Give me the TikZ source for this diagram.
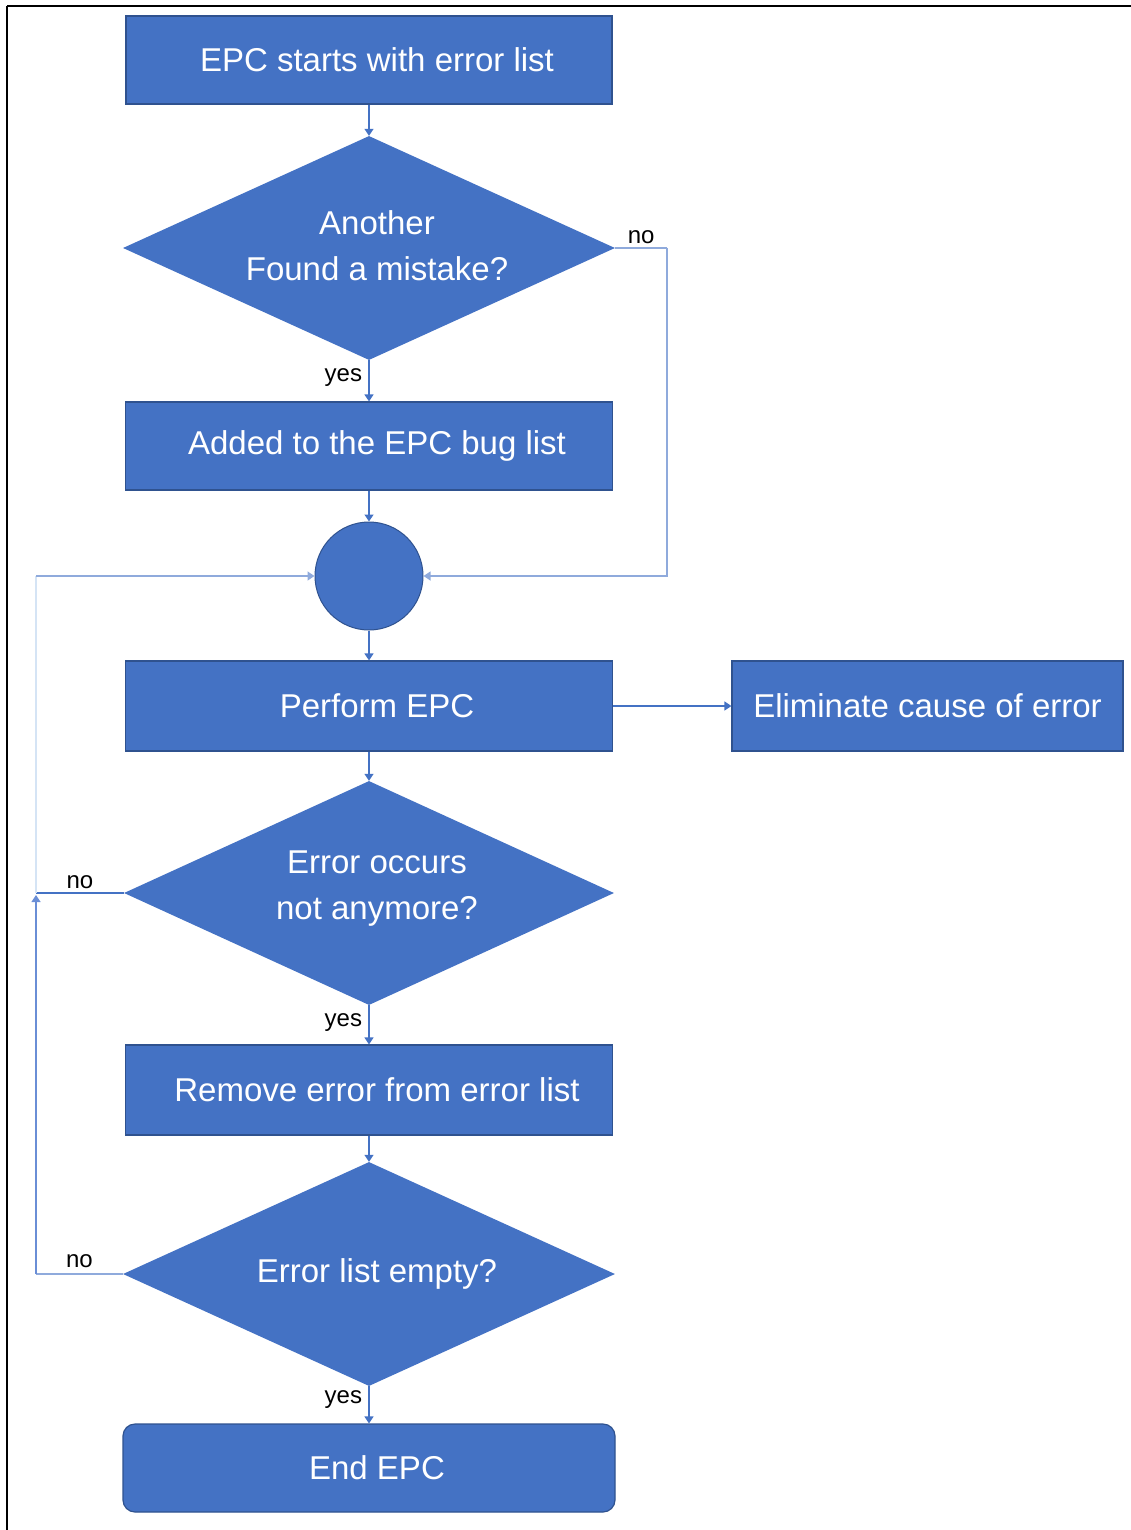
\documentclass[tikz,border=0pt]{standalone}
\usepackage{fontspec}
\setmainfont{Liberation Sans}
\usetikzlibrary{shapes.geometric,arrows.meta}
\definecolor{boxfill}{HTML}{4472C4}
\definecolor{boxline}{HTML}{2F528F}
\definecolor{linemain}{HTML}{4472C4}
\definecolor{linelight}{HTML}{8FAADC}
\definecolor{linefaint}{HTML}{D5E4F5}
\definecolor{linemid}{HTML}{6A8ED6}
\tikzset{
  box/.style={rectangle,fill=boxfill,draw=boxline,line width=1.2pt,inner sep=0pt},
  dia/.style={diamond,fill=boxfill,draw=none,inner sep=0pt},
  txt/.style={text=white,font=\fontsize{33}{46}\selectfont,align=center},
  lbl/.style={text=black,font=\fontsize{24}{26}\selectfont},
  conn/.style={draw=linemain,line width=1.3pt,-{Triangle[width=9pt,length=7pt]}},
  plain/.style={line width=1.3pt},
}
\begin{document}
\begin{tikzpicture}[x=1pt,y=-1pt]
\useasboundingbox (0,0) rectangle (1131,1530);
\draw[black,line width=2.5pt] (7,6) -- (1131,6);
\draw[black,line width=2.5pt] (7,6) -- (7,1530);

\node[box,minimum width=486pt,minimum height=88pt,label={[txt,xshift=8pt]center:EPC starts with error list}] (b1) at (369,60) {};
\node[dia,minimum width=492pt,minimum height=224pt,label={[txt,xshift=8pt,yshift=2pt]center:Another\\Found a mistake?}] (d1) at (369,248) {};
\node[box,minimum width=487pt,minimum height=88pt,label={[txt,xshift=8pt]center:Added to the EPC bug list}] (b2) at (369,446) {};
\node[circle,fill=boxfill,draw=boxline,line width=1pt,minimum size=108pt,inner sep=0pt] (c) at (369,576) {};
\node[box,minimum width=487pt,minimum height=90pt,label={[txt,xshift=8pt]center:Perform EPC}] (b3) at (369,706) {};
\node[box,minimum width=391pt,minimum height=90pt,label={[txt]center:Eliminate cause of error}] (b4) at (927.5,706) {};
\node[dia,minimum width=490pt,minimum height=224pt,label={[txt,xshift=8pt,yshift=4pt]center:Error occurs\\not anymore?}] (d2) at (369,893) {};
\node[box,minimum width=487pt,minimum height=90pt,label={[txt,xshift=8pt]center:Remove error from error list}] (b5) at (369,1090) {};
\node[dia,minimum width=492pt,minimum height=224pt,label={[txt,xshift=8pt]center:Error list empty?}] (d3) at (369,1274) {};
\node[box,rounded corners=12pt,minimum width=492pt,minimum height=88pt,label={[txt,xshift=8pt]center:End EPC}] (b6) at (369,1468) {};

\coordinate (r1) at (667,248);
\coordinate (l1) at (36,893);
\coordinate (l2) at (36,576);
\coordinate (l3) at (36,1274);
\coordinate (l4) at (36,895);

\draw[conn] (b1.south) -- (d1.north);
\draw[conn] (d1.south) -- node[lbl,anchor=east,xshift=-3pt,yshift=3pt]{yes} (b2.north);
\draw[conn] (b2.south) -- (c.north);
\draw[conn] (c.south) -- (b3.north);
\draw[conn] (b3.east) -- (b4.west);
\draw[conn] (b3.south) -- (d2.north);
\draw[conn] (d2.south) -- node[lbl,anchor=east,pos=0.45,xshift=-3pt]{yes} (b5.north);
\draw[conn] (b5.south) -- (d3.north);
\draw[conn] (d3.south) -- node[lbl,anchor=east,pos=0.35,xshift=-3pt]{yes} (b6.north);

\draw[plain,draw=linelight] (d1.east) -- node[lbl,above]{no} (r1);
\draw[conn,draw=linelight] (r1) |- (c.east);

\draw[plain,draw=linemain] (d2.west) -- node[lbl,above]{no} (l1);
\draw[plain,draw=linefaint] (l1) -- (l2);
\draw[conn,draw=linelight] (l2) -- (c.west);

\draw[plain,draw=linelight] (d3.west) -- node[lbl,above,yshift=2pt]{no} (l3);
\draw[conn,draw=linemid] (l3) -- (l4);
\end{tikzpicture}
\end{document}
